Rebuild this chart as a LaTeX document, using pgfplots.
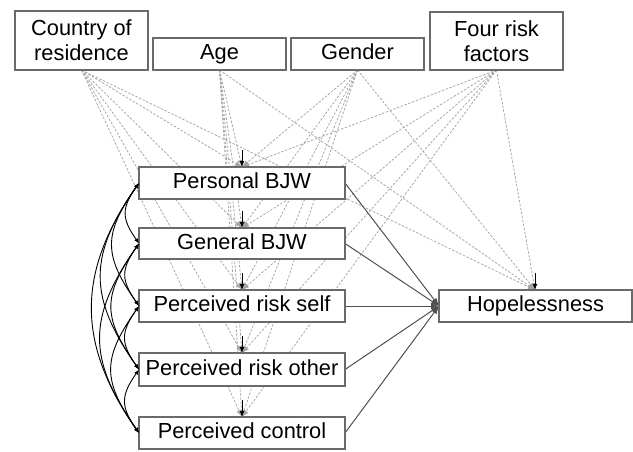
\documentclass[border=0pt]{standalone}
\usepackage{pgfplots}
\pgfplotsset{compat=1.18}
\usepackage{fontspec}
\setmainfont{Liberation Sans}
\usetikzlibrary{arrows.meta}
\definecolor{dashgray}{HTML}{A4A4A4}
\definecolor{boxgray}{HTML}{6A6A6A}
\definecolor{solidgray}{HTML}{505050}
\begin{document}
\begin{tikzpicture}[
  box/.style={draw=boxgray, line width=0.6pt, fill=white, inner sep=0pt, align=center, font=\fontsize{10.9}{12.6}\selectfont},
  one/.style={text height=7.9pt, text depth=2.3pt},
  dl/.style={dashgray, line width=0.38pt, dash pattern=on 1.2pt off 0.8pt, -{Latex[length=3.5pt,width=2.6pt]}},
  sl/.style={solidgray, line width=0.5pt, -{Latex[length=4pt,width=3pt]}},
  cv/.style={black, line width=0.45pt, {Latex[length=2.6pt,width=2pt]}-{Latex[length=2.6pt,width=2pt]}}
]
\begin{axis}[
  width=316.5pt, height=225.5pt, scale only axis,
  xmin=0, xmax=633, ymin=0, ymax=451, y dir=reverse,
  hide axis, clip=false
]
% frame of the picture (invisible)
\path (axis cs:0,0) rectangle (axis cs:633,451);
% covariate -> mediators / hopelessness (dashed)
% Country (81.5,70)
\addplot[dl] coordinates {(81.5,70) (242,167)};
\addplot[dl] coordinates {(81.5,70) (242,228)};
\addplot[dl] coordinates {(81.5,70) (242,290)};
\addplot[dl] coordinates {(81.5,70) (242,353)};
\addplot[dl] coordinates {(81.5,70) (242,417)};
\addplot[dl] coordinates {(81.5,70) (535,290)};
% Age (219.5,70)
\addplot[dl] coordinates {(219.5,70) (242,167)};
\addplot[dl] coordinates {(219.5,70) (242,228)};
\addplot[dl] coordinates {(219.5,70) (242,290)};
\addplot[dl] coordinates {(219.5,70) (242,353)};
\addplot[dl] coordinates {(219.5,70) (242,417)};
\addplot[dl] coordinates {(219.5,70) (535,290)};
% Gender (357.5,70)
\addplot[dl] coordinates {(357.5,70) (242,167)};
\addplot[dl] coordinates {(357.5,70) (242,228)};
\addplot[dl] coordinates {(357.5,70) (242,290)};
\addplot[dl] coordinates {(357.5,70) (242,353)};
\addplot[dl] coordinates {(357.5,70) (242,417)};
\addplot[dl] coordinates {(357.5,70) (535,290)};
% Four risk factors (496.5,70)
\addplot[dl] coordinates {(496.5,70) (242,167)};
\addplot[dl] coordinates {(496.5,70) (242,228)};
\addplot[dl] coordinates {(496.5,70) (242,290)};
\addplot[dl] coordinates {(496.5,70) (242,353)};
\addplot[dl] coordinates {(496.5,70) (242,417)};
\addplot[dl] coordinates {(496.5,70) (535,290)};
% residual arrows
\addplot[black, line width=0.45pt, -{Latex[length=3pt,width=2.4pt]}] coordinates {(242,150) (242,167)};
\addplot[black, line width=0.45pt, -{Latex[length=3pt,width=2.4pt]}] coordinates {(242,211) (242,228)};
\addplot[black, line width=0.45pt, -{Latex[length=3pt,width=2.4pt]}] coordinates {(242,273) (242,290)};
\addplot[black, line width=0.45pt, -{Latex[length=3pt,width=2.4pt]}] coordinates {(242,336) (242,353)};
\addplot[black, line width=0.45pt, -{Latex[length=3pt,width=2.4pt]}] coordinates {(242,400) (242,417)};
\addplot[black, line width=0.45pt, -{Latex[length=3pt,width=2.4pt]}] coordinates {(535,273) (535,290)};
% mediators -> hopelessness
\addplot[sl] coordinates {(345,183) (439,306)};
\addplot[sl] coordinates {(345,243.5) (439,306)};
\addplot[sl] coordinates {(345,306) (439,306)};
\addplot[sl] coordinates {(345,369.5) (439,306)};
\addplot[sl] coordinates {(345,433) (439,306)};
% boxes
\node[box, minimum width=66.5pt, minimum height=29.5pt] at (axis cs:81.5,40.5) {Country of\\residence};
\node[box, one, minimum width=66.5pt, minimum height=16pt] at (axis cs:219.5,54) {Age};
\node[box, one, minimum width=66.5pt, minimum height=16pt] at (axis cs:357.5,54) {Gender};
\node[box, minimum width=66.5pt, minimum height=29pt] at (axis cs:496.5,41) {Four risk\\factors};
\node[box, one, minimum width=103pt, minimum height=16pt] at (axis cs:242,183) {Personal BJW};
\node[box, one, minimum width=103pt, minimum height=15.5pt] at (axis cs:242,243.5) {General BJW};
\node[box, one, minimum width=103pt, minimum height=16pt] at (axis cs:242,306) {Perceived risk self};
\node[box, one, minimum width=103pt, minimum height=16.5pt] at (axis cs:242,369.5) {Perceived risk other};
\node[box, one, minimum width=103pt, minimum height=16pt] at (axis cs:242,433) {Perceived control};
\node[box, one, minimum width=96.5pt, minimum height=16pt] at (axis cs:535.5,306) {Hopelessness};
% covariances
\draw[cv] (axis cs:139,183) to[out=235,in=125,looseness=1.3] (axis cs:139,243.5);
\draw[cv] (axis cs:139,183) to[out=235,in=125,looseness=1.3] (axis cs:139,306);
\draw[cv] (axis cs:139,183) to[out=235,in=125,looseness=1.22] (axis cs:139,369.5);
\draw[cv] (axis cs:139,183) to[out=235,in=125,looseness=1.12] (axis cs:139,433);
\draw[cv] (axis cs:139,243.5) to[out=235,in=125,looseness=1.3] (axis cs:139,306);
\draw[cv] (axis cs:139,243.5) to[out=235,in=125,looseness=1.3] (axis cs:139,369.5);
\draw[cv] (axis cs:139,243.5) to[out=235,in=125,looseness=1.22] (axis cs:139,433);
\draw[cv] (axis cs:139,306) to[out=235,in=125,looseness=1.3] (axis cs:139,369.5);
\draw[cv] (axis cs:139,306) to[out=235,in=125,looseness=1.3] (axis cs:139,433);
\draw[cv] (axis cs:139,369.5) to[out=235,in=125,looseness=1.3] (axis cs:139,433);
\end{axis}
\end{tikzpicture}
\end{document}
